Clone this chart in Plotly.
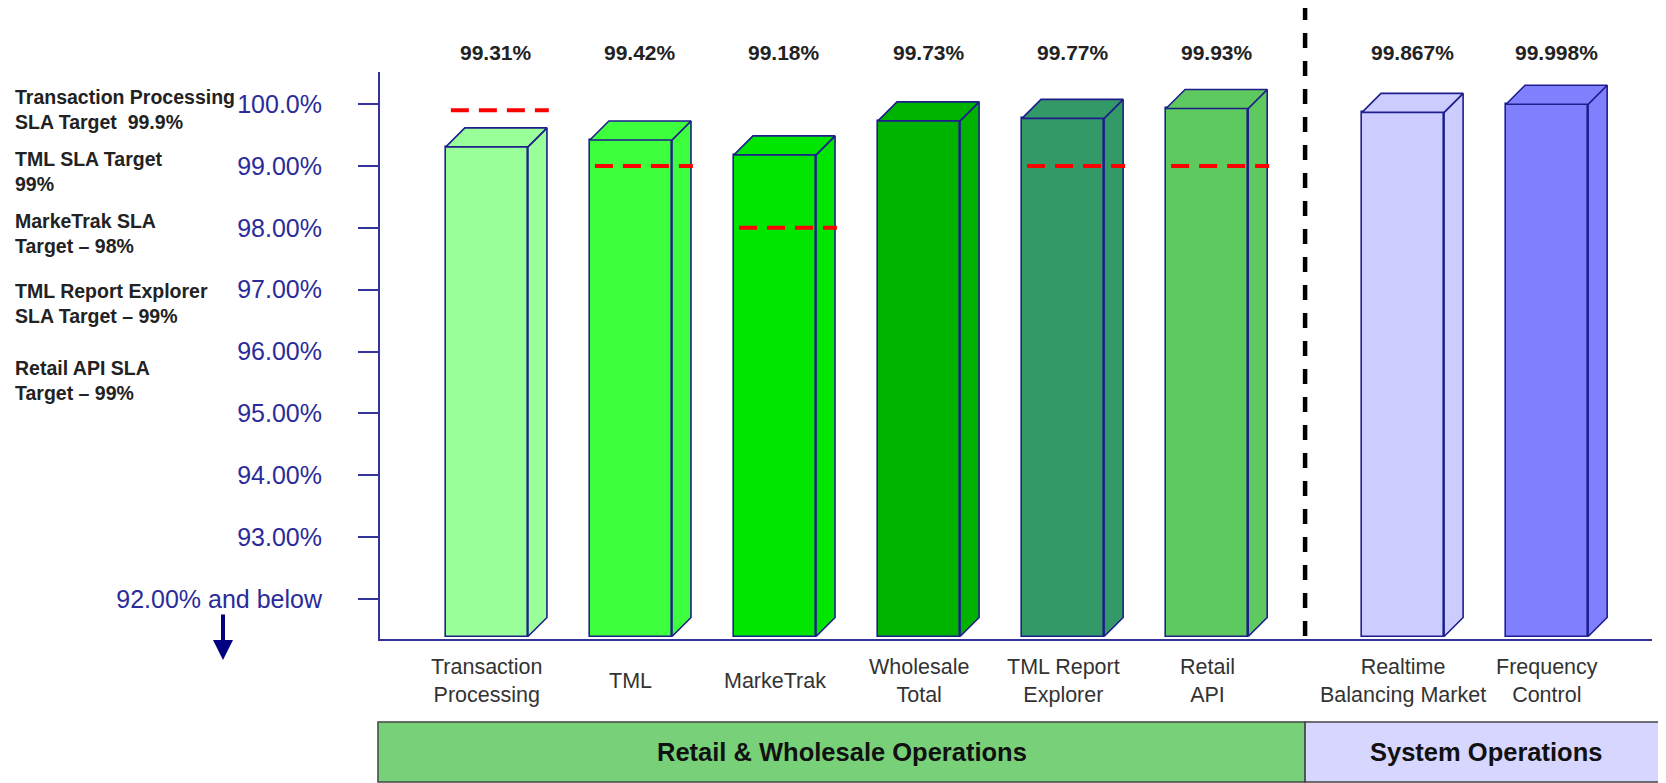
import plotly.graph_objects as go

# ---------------- data ----------------
categories = ["Transaction<br>Processing", "TML", "MarkeTrak", "Wholesale<br>Total",
              "TML Report<br>Explorer", "Retail<br>API",
              "Realtime<br>Balancing Market", "Frequency<br>Control"]
groups = ["Retail & Wholesale Operations"] * 6 + ["System Operations"] * 2
availability = [99.31, 99.42, 99.18, 99.73, 99.77, 99.93, 99.867, 99.998]
value_labels = ["99.31%", "99.42%", "99.18%", "99.73%", "99.77%", "99.93%", "99.867%", "99.998%"]
sla_targets = [99.9, 99.0, 98.0, None, 99.0, 99.0, None, None]
target_notes = ["Transaction Processing<br>SLA Target\u00a0 99.9%",
                "TML SLA Target<br>99%",
                "MarkeTrak SLA<br>Target \u2013 98%",
                "TML Report Explorer<br>SLA Target \u2013 99%",
                "Retail API SLA<br>Target \u2013 99%"]
y_tick_values = [92, 93, 94, 95, 96, 97, 98, 99, 100]
y_tick_labels = ["92.00% and below", "93.00%", "94.00%", "95.00%", "96.00%",
                 "97.00%", "98.00%", "99.00%", "100.0%"]
group_names = ["Retail & Wholesale Operations", "System Operations"]

# ---------------- styles ----------------
bar_colors = ["#99FF99", "#3DFF3D", "#00E600", "#00B300", "#339966", "#5EC95E",
              "#CCCCFF", "#8080FF"]
group_colors = ["#78D078", "#D6D6FF"]
OUTLINE = "#1E1E8C"
AXIS = "#33339A"
FONT = "Arial, Liberation Sans, sans-serif"

PAGE_OFF = 8                      # default body margin of the html page
W, H = 1666 - PAGE_OFF, 783 - PAGE_OFF
# plot area in page pixels: x 380..1644, y 72..639
ML, MR, MT, MB = 380 - PAGE_OFF, 1666 - 1644 - PAGE_OFF, 72 - PAGE_OFF, 783 - 639
PW, PH = W - ML - MR, H - MT - MB
X_MIN = -0.742
X_RANGE = [X_MIN, X_MIN + PW / 144.05]
Y_RANGE = [91.353, 100.52]
GROUP_GAP = 0.36
BAR_W = 0.57
DX = 0.132          # depth offset (x units)
DY = 0.307          # depth offset (y units)
FLOOR = Y_RANGE[0] + 0.04


def xp(page_x):
    return (page_x - PAGE_OFF - ML) / PW


def yp(page_y):
    return (H - MB - (page_y - PAGE_OFF)) / PH


def xdata_to_paper(x):
    return (x - X_RANGE[0]) / (X_RANGE[1] - X_RANGE[0])


positions = [i + (GROUP_GAP if g == group_names[1] else 0) for i, g in enumerate(groups)]

fig = go.Figure()

# front faces
fig.add_trace(go.Bar(
    x=positions, y=[v - FLOOR for v in availability], base=FLOOR, width=BAR_W,
    marker=dict(color=bar_colors, line=dict(color=OUTLINE, width=1.6)),
    hoverinfo="skip", showlegend=False))

# side and top faces (3D effect)
for x, v, c in zip(positions, availability, bar_colors):
    l, r = x - BAR_W / 2, x + BAR_W / 2
    fig.add_trace(go.Scatter(
        x=[r, r + DX, r + DX, r, r], y=[FLOOR, FLOOR + DY, v + DY, v, FLOOR],
        mode="lines", fill="toself", fillcolor=c,
        line=dict(color=OUTLINE, width=1.6), hoverinfo="skip", showlegend=False))
    fig.add_trace(go.Scatter(
        x=[l, l + DX, r + DX, r, l], y=[v, v + DY, v + DY, v, v],
        mode="lines", fill="toself", fillcolor=c,
        line=dict(color=OUTLINE, width=1.6), hoverinfo="skip", showlegend=False))

# SLA target dashed lines
for x, t in zip(positions, sla_targets):
    if t is None:
        continue
    fig.add_trace(go.Scatter(
        x=[x - 0.25, x + 0.43], y=[t, t], mode="lines",
        line=dict(color="#FF0000", width=4, dash="18px,10px"),
        hoverinfo="skip", showlegend=False))

# divider between the two groups
divider = (positions[5] + positions[6]) / 2
fig.add_shape(type="line", xref="x", yref="paper", x0=divider, x1=divider,
              y0=yp(636), y1=yp(8), line=dict(color="black", width=4.5, dash="15px,13px"))

annotations = []
# value labels above bars
for x, t in zip(positions, value_labels):
    annotations.append(dict(x=x + DX / 2, y=yp(53), xref="x", yref="paper", text="<b>" + t + "</b>",
                            showarrow=False, font=dict(family=FONT, size=21, color="#222222"),
                            xanchor="center", yanchor="middle"))
# category labels
for x, t in zip(positions, categories):
    annotations.append(dict(x=x, y=yp(681), xref="x", yref="paper", text=t,
                            showarrow=False, font=dict(family=FONT, size=21.5, color="#333333"),
                            xanchor="center", yanchor="middle"))
# SLA target notes on the left
note_y = [109, 171, 233, 303, 380]
for t, y in zip(target_notes, note_y):
    annotations.append(dict(x=xp(13), y=yp(y), xref="paper", yref="paper", text="<b>" + t + "</b>",
                            showarrow=False, align="left",
                            font=dict(family=FONT, size=19.5, color="#222222"),
                            xanchor="left", yanchor="middle"))
# arrow below "92.00% and below"
annotations.append(dict(x=xp(223), y=yp(660), xref="paper", yref="paper", text="",
                        showarrow=True, ax=0, ay=-47, arrowhead=2, arrowsize=1,
                        arrowwidth=4, arrowcolor="#000080", standoff=0))

# group boxes
bounds = [(xp(378), xdata_to_paper(divider)), (xdata_to_paper(divider), xp(1666))]
for (x0, x1), name, col in zip(bounds, group_names, group_colors):
    fig.add_shape(type="rect", xref="paper", yref="paper", x0=x0, x1=x1,
                  y0=yp(782), y1=yp(722), fillcolor=col,
                  line=dict(color="#444444", width=1.5), layer="above")
    annotations.append(dict(x=(x0 + x1) / 2, y=yp(752), xref="paper", yref="paper",
                            text="<b>" + name + "</b>", showarrow=False,
                            font=dict(family=FONT, size=25.5, color="#111111"),
                            xanchor="center", yanchor="middle"))

fig.update_layout(
    width=W, height=H, margin=dict(l=ML, r=MR, t=MT, b=MB),
    plot_bgcolor="white", paper_bgcolor="white", showlegend=False,
    annotations=annotations, bargap=0,
    xaxis=dict(range=X_RANGE, showgrid=False, zeroline=False, showticklabels=False,
               ticks="", showline=True, linecolor=AXIS, linewidth=2, fixedrange=True,
               automargin=False),
    yaxis=dict(range=Y_RANGE, tickvals=y_tick_values, ticktext=y_tick_labels,
               showgrid=False, zeroline=False, showline=True, linecolor=AXIS, linewidth=2,
               ticks="outside", ticklen=20, tickwidth=2, tickcolor=AXIS,
               tickfont=dict(family=FONT, size=25, color="#2B2B99"),
               ticklabelstandoff=31, automargin=False, fixedrange=True),
)

fig.write_html("out.html")
